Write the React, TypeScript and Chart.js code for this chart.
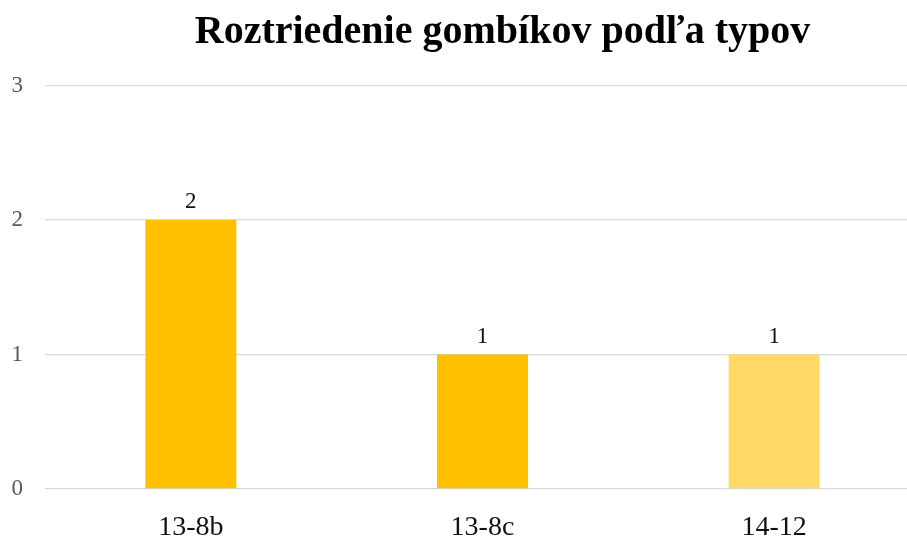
import React, { useEffect, useRef } from "react";
import { Chart, registerables } from "chart.js";

Chart.register(...registerables);

const categories = ["13-8b", "13-8c", "14-12"];
const values = [2, 1, 1];
const barColors = ["#FFC000", "#FFC000", "#FFD966"];
const yTicks = [0, 1, 2, 3];
const titleText = "Roztriedenie gombíkov podľa typov";

const valueLabels = {
  id: "valueLabels",
  afterDatasetsDraw(chart: any) {
    const ctx = chart.ctx;
    const meta = chart.getDatasetMeta(0);
    ctx.save();
    ctx.font = "23px 'Liberation Serif'";
    ctx.fillStyle = "#111111";
    ctx.textAlign = "center";
    ctx.textBaseline = "alphabetic";
    meta.data.forEach((bar: any, i: number) => {
      ctx.fillText(String(chart.data.datasets[0].data[i]), bar.x, bar.y - 12);
    });
    ctx.restore();
  },
};

export default function App() {
  const ref = useRef<HTMLCanvasElement>(null);
  useEffect(() => {
    if (!ref.current) return;
    const chart = new Chart(ref.current, {
      type: "bar",
      data: {
        labels: categories,
        datasets: [
          {
            data: values,
            backgroundColor: barColors,
            barPercentage: 0.312,
            categoryPercentage: 1,
          },
        ],
      },
      options: {
        animation: false,
        responsive: false,
        maintainAspectRatio: false,
        layout: { padding: { top: 85.5, left: 0, right: 0, bottom: 0 } },
        plugins: {
          legend: { display: false },
          title: { display: false },
          tooltip: { enabled: false },
        },
        scales: {
          x: {
            grid: { display: false },
            border: { display: false },
            ticks: {
              color: "#111111",
              font: { family: "'Liberation Serif'", size: 28 },
              padding: 14,
            },
            afterFit(axis: any) {
              axis.height = 47;
            },
          },
          y: {
            min: 0,
            max: 3,
            afterBuildTicks(axis: any) {
              axis.ticks = yTicks.map((v) => ({ value: v }));
            },
            grid: { color: "#D9D9D9", lineWidth: 1.3, drawTicks: false },
            border: { display: false },
            ticks: {
              color: "#595959",
              font: { family: "'Liberation Serif'", size: 23 },
              padding: 22,
            },
            afterFit(axis: any) {
              axis.width = 45;
            },
          },
        },
      },
      plugins: [valueLabels],
    });
    return () => chart.destroy();
  }, []);

  return (
    <div
      style={{
        position: "fixed",
        left: 0,
        top: 0,
        width: 907,
        height: 536,
        overflow: "hidden",
        background: "#fff",
      }}
    >
      <canvas
        ref={ref}
        width={920}
        height={536}
        style={{ position: "absolute", left: 0, top: 0, width: 920, height: 536 }}
      />
      <div
        style={{
          position: "absolute",
          left: 0,
          top: 10,
          width: 1005,
          textAlign: "center",
          fontFamily: "'Liberation Serif'",
          fontWeight: "bold",
          fontSize: 40,
          lineHeight: "40px",
          color: "#000",
          whiteSpace: "nowrap",
        }}
      >
        {titleText}
      </div>
    </div>
  );
}
